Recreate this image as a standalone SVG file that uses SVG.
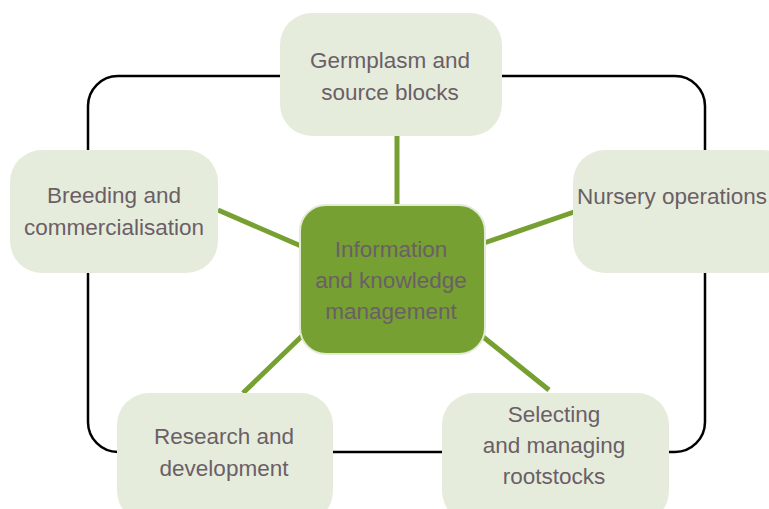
<svg xmlns="http://www.w3.org/2000/svg" width="769" height="509" viewBox="0 0 769 509">
  <style>
    .box { fill: #e6ecdb; }
    .hub { fill: #76a031; stroke: #e3ead5; stroke-width: 2; }
    .lbl { font-family: "Liberation Sans", Arial, sans-serif; font-size: 22.5px; fill: #6b5f67; text-anchor: middle; }
    .spoke { stroke: #76a031; stroke-width: 5; fill: none; }
    .ring { stroke: #000; stroke-width: 2.5; fill: none; }
  </style>

  <!-- outer cycle frame -->
  <rect class="ring" x="88" y="76" width="617" height="376" rx="30" ry="30"/>

  <!-- spokes from the hub to each activity -->
  <g id="connectors">
    <line class="spoke" x1="397" y1="136" x2="397" y2="206"/>
    <line class="spoke" x1="218" y1="210" x2="301" y2="246"/>
    <line class="spoke" x1="484" y1="243" x2="574" y2="212"/>
    <line class="spoke" x1="302" y1="336" x2="243" y2="393"/>
    <line class="spoke" x1="482" y1="336" x2="549" y2="390"/>
  </g>

  <g id="germplasm">
    <rect class="box" x="280" y="13" width="222" height="123" rx="32"/>
    <text class="lbl" x="390" y="68">Germplasm and</text>
    <text class="lbl" x="390" y="100">source blocks</text>
  </g>

  <g id="breeding">
    <rect class="box" x="10" y="150" width="208" height="123" rx="32"/>
    <text class="lbl" x="114" y="203">Breeding and</text>
    <text class="lbl" x="114" y="235">commercialisation</text>
  </g>

  <g id="nursery">
    <rect class="box" x="573" y="150" width="222" height="123" rx="32"/>
    <text class="lbl" x="672" y="204">Nursery operations</text>
  </g>

  <g id="research">
    <rect class="box" x="117" y="393" width="216" height="130" rx="32"/>
    <text class="lbl" x="224" y="444">Research and</text>
    <text class="lbl" x="224" y="476">development</text>
  </g>

  <g id="rootstocks">
    <rect class="box" x="442" y="393" width="227" height="130" rx="32"/>
    <text class="lbl" x="554" y="422">Selecting</text>
    <text class="lbl" x="554" y="453">and managing</text>
    <text class="lbl" x="554" y="484">rootstocks</text>
  </g>

  <g id="information">
    <rect class="hub" x="300" y="205" width="185" height="149" rx="26"/>
    <text class="lbl" x="391" y="257">Information</text>
    <text class="lbl" x="391" y="288">and knowledge</text>
    <text class="lbl" x="391" y="319">management</text>
  </g>
</svg>
